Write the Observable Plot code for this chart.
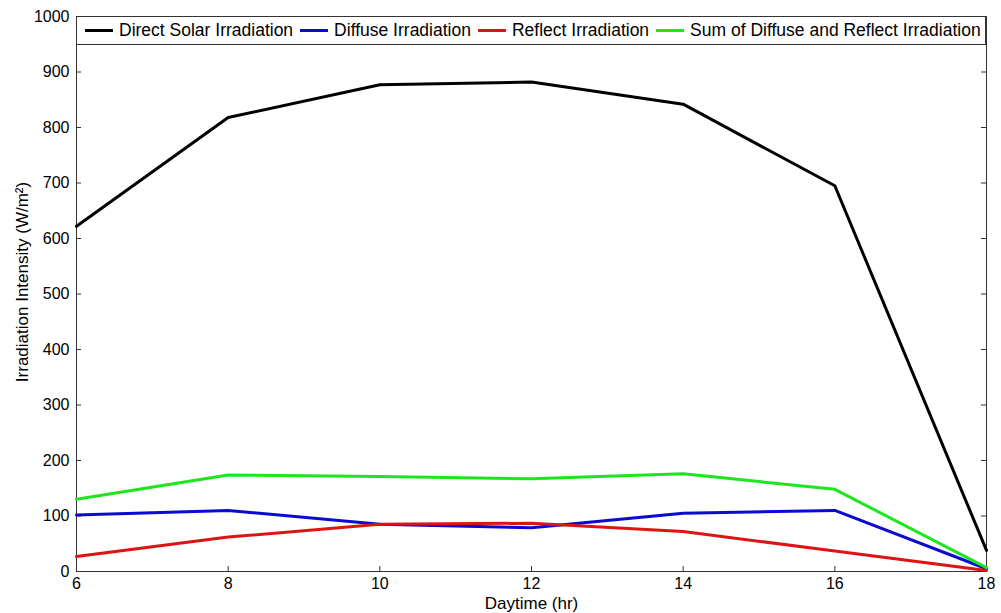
<!DOCTYPE html>
<html>
<head>
<meta charset="utf-8">
<script src="https://cdn.jsdelivr.net/npm/d3@7"></script>
<script src="https://cdn.jsdelivr.net/npm/@observablehq/plot@0.6"></script>
<style>
  html, body { margin: 0; padding: 0; background: #fff; }
  #wrap { position: relative; width: 1001px; height: 613px; font-family: "Liberation Sans", Arial, sans-serif; }
  #legend { position: absolute; left: 76px; top: 16px; width: 910px; height: 29px; border: 1px solid #333; background: #fff;
    display: flex; align-items: center; font-size: 17.5px; box-sizing: border-box; padding-left: 8px; white-space: nowrap; }
  .item { display: flex; align-items: center; margin-right: 7px; }
  .sw { display: inline-block; width: 28px; height: 3px; margin-right: 6px; }
</style>
</head>
<body>
<div id="wrap"><div id="chart"></div><div id="legend"></div></div>
<script>
const hours = [6, 8, 10, 12, 14, 16, 18];
const directSolar = [622, 818, 877, 882, 842, 695, 38];
const diffuse = [102, 110, 85, 79, 105, 110, 5];
const reflect = [27, 62, 85, 87, 72, 37, 2];
const sumDiffReflect = [130, 174, 171, 167, 176, 148, 7];
const seriesNames = ["Direct Solar Irradiation", "Diffuse Irradiation", "Reflect Irradiation", "Sum of Diffuse and Reflect Irradiation"];
const seriesColors = ["#000000", "#0a0ad2", "#dc1414", "#1ee61e"];
const yTicks = [0, 100, 200, 300, 400, 500, 600, 700, 800, 900, 1000];
const xTicks = [6, 8, 10, 12, 14, 16, 18];

const seriesValues = [directSolar, diffuse, reflect, sumDiffReflect];
const data = [];
seriesValues.forEach((vals, i) => vals.forEach((v, j) => data.push({series: seriesNames[i], hour: hours[j], value: v})));

const W = 1001, H = 613, ML = 76, MR = 15, MT = 16, MB = 42;
const pw = W - ML - MR, ph = H - MT - MB, tk = 5;

const chart = Plot.plot({
  width: W,
  height: H,
  marginLeft: ML,
  marginRight: MR,
  marginTop: MT,
  marginBottom: MB,
  style: {fontFamily: "'Liberation Sans', Arial, sans-serif", fontSize: "16px", color: "#000", background: "#fff"},
  x: {domain: [6, 18]},
  y: {domain: [0, 1000]},
  color: {domain: seriesNames, range: seriesColors},
  marks: [
    Plot.frame({stroke: "#333"}),
    Plot.axisY({ticks: yTicks, tickSize: 0, tickPadding: 7, tickFormat: d => String(d), label: null}),
    Plot.axisX({ticks: xTicks, tickSize: 0, tickPadding: 6, tickFormat: d => String(d), label: null}),
    Plot.tickY(yTicks, {y: d => d, insetRight: pw - tk, stroke: "#333"}),
    Plot.tickY(yTicks, {y: d => d, insetLeft: pw - tk, stroke: "#333"}),
    Plot.tickX(xTicks, {x: d => d, insetTop: ph - tk, stroke: "#333"}),
    Plot.tickX(xTicks, {x: d => d, insetBottom: ph - tk, stroke: "#333"}),
    Plot.line(data, {x: "hour", y: "value", z: "series", stroke: "series", strokeWidth: 3}),
    Plot.text(["Daytime (hr)"], {frameAnchor: "bottom", lineAnchor: "middle", dy: 32, fontSize: 17, fill: "#000"}),
    Plot.text(["Irradiation Intensity (W/m²)"], {frameAnchor: "left", textAnchor: "middle", lineAnchor: "middle", dx: -54, dy: -12, rotate: -90, fontSize: 17, fill: "#000"})
  ]
});
document.getElementById("chart").appendChild(chart);

const legend = document.getElementById("legend");
seriesNames.forEach((name, i) => {
  const item = document.createElement("div");
  item.className = "item";
  const sw = document.createElement("span");
  sw.className = "sw";
  sw.style.background = seriesColors[i];
  item.appendChild(sw);
  item.appendChild(document.createTextNode(name));
  legend.appendChild(item);
});
</script>
</body>
</html>
